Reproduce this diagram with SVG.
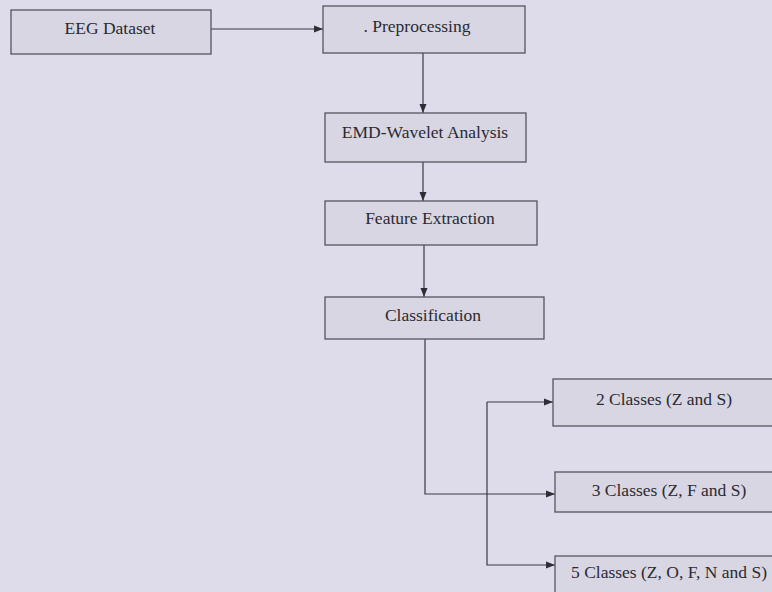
<svg xmlns="http://www.w3.org/2000/svg" width="772" height="592" viewBox="0 0 772 592">
<defs>
<marker id="ah" markerWidth="10" markerHeight="8" refX="9" refY="4" orient="auto" markerUnits="userSpaceOnUse">
<path d="M0,0.5 L9,4 L0,7.5 Z" fill="#2e2e36"/>
</marker>
</defs>
<style>
.box{fill:#d8d6e2;stroke:#55555e;stroke-width:1.3}
.lbl{font-family:"Liberation Serif","Times New Roman",serif;font-size:17.5px;fill:#2a2a32;text-anchor:middle}
.c{fill:none;stroke:#3a3a42;stroke-width:1.2}
</style>
<rect width="772" height="592" fill="#dedbea"/>
<g id="connectors">
<path class="c" d="M211,29 H323" marker-end="url(#ah)"/>
<path class="c" d="M423,53 V113" marker-end="url(#ah)"/>
<path class="c" d="M423,162 V201" marker-end="url(#ah)"/>
<path class="c" d="M424,245 V297" marker-end="url(#ah)"/>
<path class="c" d="M425,339 V494 H555" marker-end="url(#ah)"/>
<path class="c" d="M487,402 H553" marker-end="url(#ah)"/>
<path class="c" d="M487,402 V565 H555" marker-end="url(#ah)"/>
</g>
<g id="eeg"><rect class="box" x="11" y="10" width="200" height="44"/><text class="lbl" x="110" y="34">EEG Dataset</text></g>
<g id="preprocessing"><rect class="box" x="323" y="6" width="202" height="47"/><text class="lbl" x="417" y="32">. Preprocessing</text></g>
<g id="emd"><rect class="box" x="325" y="113" width="201" height="49"/><text class="lbl" x="425" y="138">EMD-Wavelet Analysis</text></g>
<g id="feature"><rect class="box" x="325" y="201" width="212" height="44"/><text class="lbl" x="430" y="224">Feature Extraction</text></g>
<g id="classification"><rect class="box" x="325" y="297" width="219" height="42"/><text class="lbl" x="433" y="321">Classification</text></g>
<g id="two"><rect class="box" x="553" y="379" width="225" height="47"/><text class="lbl" x="664" y="405">2 Classes (Z and S)</text></g>
<g id="three"><rect class="box" x="555" y="472" width="223" height="40"/><text class="lbl" x="669" y="496">3 Classes (Z, F and S)</text></g>
<g id="five"><rect class="box" x="555" y="556" width="223" height="42"/><text class="lbl" x="669" y="578">5 Classes (Z, O, F, N and S)</text></g>
</svg>
